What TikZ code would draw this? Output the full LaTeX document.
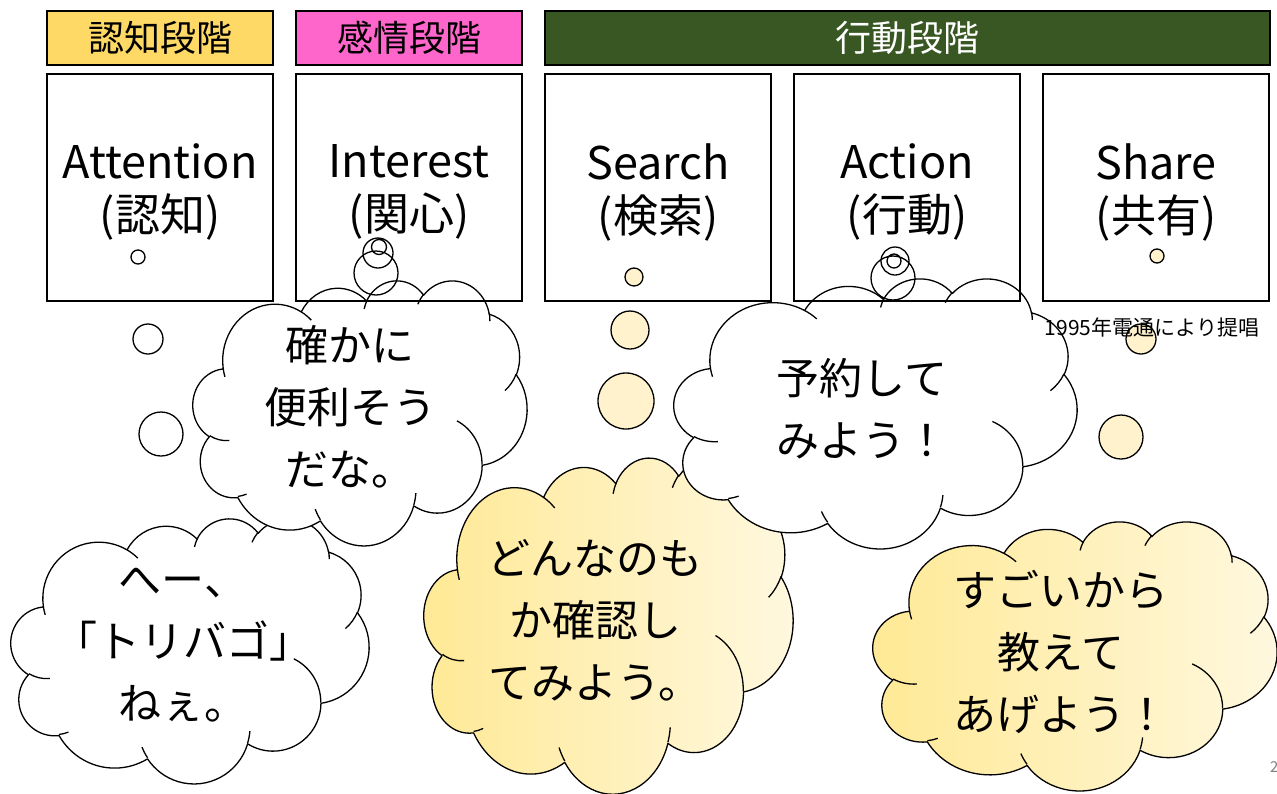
\documentclass[tikz,border=0pt]{standalone}
\usepackage{fontspec}
\setmainfont{Noto Sans CJK JP}
\definecolor{hdrA}{HTML}{FFD966}
\definecolor{hdrB}{HTML}{FF66CC}
\definecolor{hdrC}{HTML}{385723}
\definecolor{cloudL}{HTML}{FFE994}
\definecolor{cloudR}{HTML}{FFF8E0}
\definecolor{bubY}{HTML}{FFF2CC}
% DrawingML arcTo (visual angles) -> TikZ parametric arc
\newcommand\oa[4]{arc[x radius=#1, y radius=#2, start angle={atan2((#1)*sin(#3),(#2)*cos(#3))}, delta angle={mod(atan2((#1)*sin((#3)+(#4)),(#2)*cos((#3)+(#4)))-atan2((#1)*sin(#3),(#2)*cos(#3))+720,360)}]}
\newcommand\cloudpath{(9.0278,33.2639)
 \oa{15.6319}{21.2731}{-190.4875}{123.7805}
 \oa{12.3449}{16.8218}{-144.1024}{89.9452}
 \oa{10.1042}{13.7616}{-145.8079}{99.7230}
 \oa{11.2431}{15.2662}{-130.9861}{117.2417}
 \oa{12.3449}{16.8356}{-78.7089}{109.0269}
 \oa{15.6829}{21.3426}{-46.2673}{130.2690}
 \oa{13.3912}{18.2106}{0.6250}{114.0333}
 \oa{15.6296}{21.3310}{22.4516}{115.1726}
 \oa{17.8704}{24.4051}{66.2426}{75.7110}
 \oa{10.0926}{13.6991}{-274.9421}{146.7356}
 \oa{10.0579}{13.7616}{-246.8285}{152.5189} -- cycle}
\newcommand\cloudinner{(10.8634,60.5949) \oa{10.0579}{13.7616}{86.742}{26.4295}
 (16.0370,80.7847) \oa{10.0926}{13.6991}{73.6105}{11.4475}
 (38.1435,90.4861) \oa{15.6296}{21.3310}{137.6242}{14.0811}
 (66.7292,80.4421) \oa{15.6296}{21.3310}{6.4533}{15.9984}
 (79.0023,53.1343) \oa{13.3912}{18.2106}{-70.2924}{70.9174}
 (96.7546,35.5417) \oa{12.3449}{16.8356}{30.3180}{27.7515}
 (88.7130,12.5602) \oa{11.2431}{15.2662}{-13.7443}{14.8589}
 (67.3102,9.1481) \oa{11.2431}{15.2662}{-149.1815}{18.1954}
 (51.2523,10.9259) \oa{10.1042}{13.7616}{-163.4943}{17.6864}
 (32.4074,12.0185) \oa{15.6319}{21.2731}{-66.7070}{12.3194}
 (9.5532,36.5486) \oa{15.6319}{21.2731}{157.6544}{11.8582}}
\newcommand\cloudfill[5]{\begin{scope}[shift={(#1,#2)},xscale=#3/100,yscale=#4/100]
  \path[#5] \cloudpath;\end{scope}}
\newcommand\cloudline[4]{\begin{scope}[shift={(#1,#2)},xscale=#3/100,yscale=#4/100]
  \draw[cl] \cloudpath; \draw[cl] \cloudinner;\end{scope}}
\begin{document}
\begin{tikzpicture}[x=1pt,y=1pt,yscale=-1,
  cl/.style={line width=1.3, draw=black, line join=round},
  hdrbox/.style={draw=black, line width=1.6, minimum width=226, minimum height=54, inner sep=0, font=\fontsize{36}{40}\selectfont},
  mainbox/.style={draw=black, line width=1.6, minimum width=226, minimum height=227, inner sep=0, align=center, font=\fontsize{45}{53}\selectfont},
  ctext/.style={font=\fontsize{43}{62}\selectfont, align=center, inner sep=0},
  wfill/.style={fill=white},
  yfill/.style={left color=cloudL, right color=cloudR}]
\useasboundingbox (0,0) rectangle (1277,793);
\fill[white] (0,0) rectangle (1277,793);
% headers
\node[hdrbox, fill=hdrA] (hA) at (160,38) {認知段階};
\node[hdrbox, fill=hdrB] (hB) at (409,38) {感情段階};
\node[hdrbox, fill=hdrC, minimum width=725, text=white] (hC) at (907.5,38) {行動段階};
% cloud: へー
\fill[white] (138,257) circle (7) (148,339) circle (15) (161,434) circle (22);
\cloudfill{11}{518}{358}{265}{wfill}
\draw[cl] (138,257) circle (7) (148,339) circle (15) (161,434) circle (22);
\cloudline{11}{518}{358}{265}
% cloud: どんなのも
\fill[bubY] (634,277) circle (9) (630,330) circle (19) (626,401) circle (28);
\cloudfill{424}{457}{369}{336}{yfill}
\draw[cl] (634,277) circle (9) (630,330) circle (19) (626,401) circle (28);
\cloudline{424}{457}{369}{336}
% cloud: すごい
\fill[bubY] (1157,256) circle (7) (1141,339) circle (15) (1121,437) circle (22);
\cloudfill{873}{521}{404}{269}{yfill}
\draw[cl] (1157,256) circle (7) (1141,339) circle (15) (1121,437) circle (22);
\cloudline{873}{521}{404}{269}
% cloud: 確かに
\fill[white] (379,247) circle (7.5) (378,253) circle (15) (376,273) circle (22);
\cloudfill{193}{280}{334}{265}{wfill}
\draw[cl] (379,247) circle (7.5) (378,253) circle (15) (376,273) circle (22);
\cloudline{193}{280}{334}{265}
% cloud: 予約
\fill[white] (894,261) circle (7) (895,261) circle (14) (893,278) circle (22);
\cloudfill{674}{278}{403}{270}{wfill}
\draw[cl] (894,261) circle (7) (895,261) circle (14) (893,278) circle (22);
\cloudline{674}{278}{403}{270}
% main boxes
\node[mainbox] (att) at (160,187.5) {\phantom{Ag}};
\node[mainbox] (int) at (409,187.5) {\phantom{Ag}};
\node[mainbox] (sea) at (658,187.5) {\phantom{Ag}};
\node[mainbox] (act) at (907,187.5) {\phantom{Ag}};
\node[mainbox] (sha) at (1156,187.5) {\phantom{Ag}};
\begin{scope}[every node/.style={align=center, inner sep=0, font=\fontsize{45}{53}\selectfont}]
\node (attT) at (160,192) {Attention\\(認知)};
\node (intT) at (409,192) {Interest\\(関心)};
\node (seaT) at (658,192) {Search\\(検索)};
\node (actT) at (907,192) {Action\\(行動)};
\node (shaT) at (1156,192) {Share\\(共有)};
\end{scope}
% cloud texts
\node[ctext] (t1) at (183,645) {へー、\\「トリバゴ」\\ねぇ。};
\node[ctext] (t2) at (350,407) {確かに\\便利そう\\だな。};
\node[ctext] (t3) at (595,620) {どんなのも\\か確認し\\てみよう。};
\node[ctext] (t4) at (862,409) {予約して\\みよう！};
\node[ctext] (t5) at (1061,652) {すごいから\\教えて\\あげよう！};
\node[font=\fontsize{21}{22}\selectfont, inner sep=0] (note) at (1152,327) {1995年電通により提唱};
\node[font=\fontsize{15}{16}\selectfont, text=gray, anchor=west, inner sep=0] (pg) at (1270,767) {2};
\end{tikzpicture}
\end{document}
